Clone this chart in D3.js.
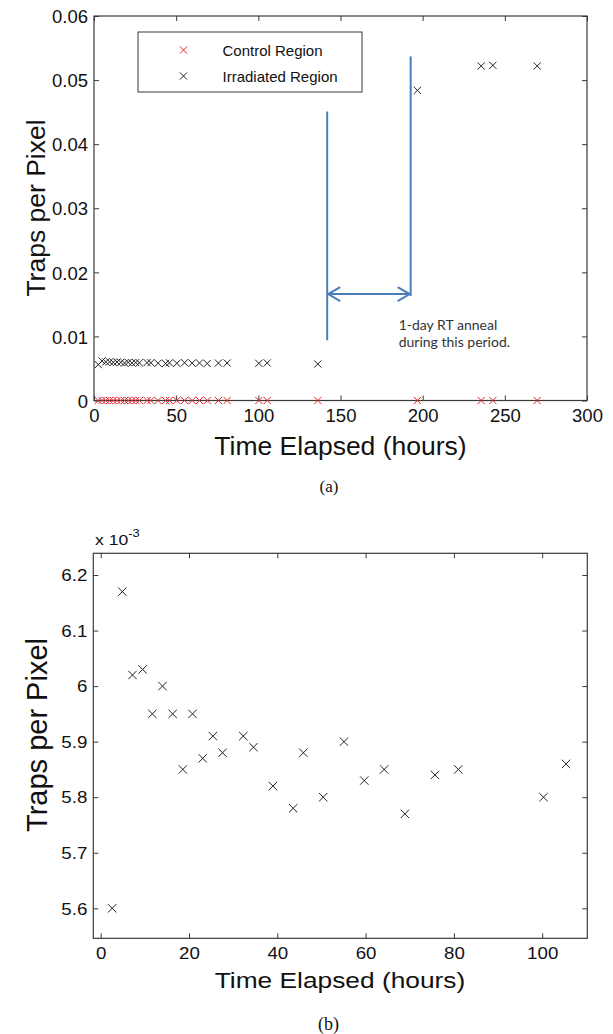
<!DOCTYPE html>
<html><head><meta charset="utf-8">
<script src="https://cdn.jsdelivr.net/npm/d3@7"></script>
<style>body{margin:0;background:#fff} svg{display:block}</style>
</head><body>
<script>
// ---------- Panel (a) data ----------
const xTicksA = [0, 50, 100, 150, 200, 250, 300];
const yTicksA = [0, 0.01, 0.02, 0.03, 0.04, 0.05, 0.06];
const controlHours = [2.6, 4.9, 7.2, 9.5, 11.7, 14.0, 16.3, 18.6, 20.8, 23.1, 25.4, 27.6, 32.3, 34.6, 39.0, 43.6, 45.9, 50.4, 55.1, 59.7, 64.2, 68.9, 75.7, 81.0, 100.3, 105.4, 136.2, 196.8, 235.6, 242.7, 269.7];
const controlTraps = [0,0,0,0,0,0,0,0,0,0,0,0,0,0,0,0,0,0,0,0,0,0,0,0,0,0,0,0,0,0,0];
const irradiatedHours = [2.6, 4.9, 7.2, 9.5, 11.7, 14.0, 16.3, 18.6, 20.8, 23.1, 25.4, 27.6, 32.3, 34.6, 39.0, 43.6, 45.9, 50.4, 55.1, 59.7, 64.2, 68.9, 75.7, 81.0, 100.3, 105.4, 136.2, 196.8, 235.6, 242.7, 269.7];
const irradiatedTraps = [0.00560, 0.00617, 0.00602, 0.00603, 0.00595, 0.00600, 0.00595, 0.00585, 0.00595, 0.00587, 0.00591, 0.00588, 0.00591, 0.00589, 0.00582, 0.00578, 0.00588, 0.00580, 0.00590, 0.00583, 0.00585, 0.00577, 0.00584, 0.00585, 0.00580, 0.00586, 0.00570, 0.0484, 0.0522, 0.0523, 0.0522];
const legendLabels = ["Control Region", "Irradiated Region"];
const annotationLines = ["1-day RT anneal", "during this period."];
// annotation geometry in data units (hours, traps/pixel)
const annealStart = {t: 141.9, top: 0.0451, bottom: 0.0094};
const annealEnd = {t: 192.7, top: 0.0537, bottom: 0.0163};
const arrowLevel = 0.0166;
const annotationAnchor = {t: 185.4, v: 0.0110, v2: 0.0084};

// ---------- Panel (b) data ----------
const xTicksB = [0, 20, 40, 60, 80, 100];
const yTicksB = [5.6, 5.7, 5.8, 5.9, 6.0, 6.1, 6.2];
const earlyHours = [2.6, 4.9, 7.2, 9.5, 11.7, 14.0, 16.3, 18.6, 20.8, 23.1, 25.4, 27.6, 32.3, 34.6, 39.0, 43.6, 45.9, 50.4, 55.1, 59.7, 64.2, 68.9, 75.7, 81.0, 100.3, 105.4];
const earlyTrapsE3 = [5.60, 6.17, 6.02, 6.03, 5.95, 6.00, 5.95, 5.85, 5.95, 5.87, 5.91, 5.88, 5.91, 5.89, 5.82, 5.78, 5.88, 5.80, 5.90, 5.83, 5.85, 5.77, 5.84, 5.85, 5.80, 5.86];

const W = 613, H = 1034;
const svg = d3.select("body").append("svg").attr("width", W).attr("height", H);
const SANS = "'Liberation Sans', Arial, sans-serif";
const SERIF = "'Liberation Serif', 'Times New Roman', serif";
const FRAME = "#3a3a3a";
const RED = "#e2262c";
const BLUE = "#4a7ebb";

function cross(g, x, y, r, color) {
  g.append("path")
    .attr("d", `M${x - r},${y - r}L${x + r},${y + r}M${x - r},${y + r}L${x + r},${y - r}`)
    .attr("stroke", color).attr("stroke-width", 1).attr("fill", "none");
}

function styleAxis(g, size, sx) {
  g.select(".domain").remove();
  g.selectAll(".tick line").attr("stroke", FRAME).attr("stroke-width", 1);
  g.selectAll(".tick text").attr("fill", "#111").style("font-family", SANS).style("font-size", size + "px");
  if (sx && sx !== 1) {
    g.selectAll(".tick text").each(function () {
      const t = d3.select(this);
      const x = +t.attr("x") || 0, y = +t.attr("y") || 0;
      t.attr("transform", `translate(${x},${y}) scale(${sx},1) translate(${-x},${-y})`);
    });
  }
}

function panel(opt) {
  const g = svg.append("g");
  const {x, y} = opt;
  const xr = [opt.frame.left, opt.frame.right], yr = [opt.frame.top, opt.frame.bottom];
  const ts = 5;
  const gb = g.append("g").attr("transform", `translate(0,${yr[1]})`)
    .call(d3.axisBottom(x).tickValues(opt.xTicks).tickSize(-ts).tickPadding(opt.xPad).tickFormat(opt.xFmt));
  styleAxis(gb, opt.tickFont, opt.sx);
  const gt = g.append("g").attr("transform", `translate(0,${yr[0]})`)
    .call(d3.axisTop(x).tickValues(opt.xTicks).tickSize(-ts).tickFormat(""));
  styleAxis(gt, opt.tickFont);
  const gl = g.append("g").attr("transform", `translate(${xr[0]},0)`)
    .call(d3.axisLeft(y).tickValues(opt.yTicks).tickSize(-ts).tickPadding(opt.yPad).tickFormat(opt.yFmt));
  styleAxis(gl, opt.tickFont, opt.sx);
  gl.selectAll(".tick text").attr("dy", "0.36em");
  const gr = g.append("g").attr("transform", `translate(${xr[1]},0)`)
    .call(d3.axisRight(y).tickValues(opt.yTicks).tickSize(-ts).tickFormat(""));
  styleAxis(gr, opt.tickFont);
  g.append("rect").attr("x", xr[0]).attr("y", yr[0]).attr("width", xr[1] - xr[0]).attr("height", yr[1] - yr[0])
    .attr("fill", "none").attr("stroke", FRAME).attr("stroke-width", 1.2);
  return g;
}

// ================= Panel (a) =================
const xA = d3.scaleLinear().domain([0, 300]).range([94, 587]);
const yA = d3.scaleLinear().domain([0, 0.06]).range([400.5, 16]);
const gA = panel({
  x: xA, y: yA, frame: {left: 94, right: 587, top: 16, bottom: 400.5},
  xTicks: xTicksA, yTicks: yTicksA, xPad: 8, yPad: 6, tickFont: 18.5,
  xFmt: d3.format("d"), yFmt: d => d === 0 ? "0" : d3.format(".2f")(d)
});
const mA = gA.append("g");
controlHours.forEach((t, i) => cross(mA, xA(t), yA(controlTraps[i]), 3.6, RED));
irradiatedHours.forEach((t, i) => cross(mA, xA(t), yA(irradiatedTraps[i]), 3.6, "#222"));

// legend
const leg = gA.append("g");
leg.append("rect").attr("x", 138).attr("y", 32).attr("width", 224).attr("height", 60)
  .attr("fill", "#fff").attr("stroke", FRAME).attr("stroke-width", 1);
[RED, "#222"].forEach((c, i) => {
  cross(leg, 183.5, 50 + i * 26, 3.6, c);
  leg.append("text").attr("x", 222.5).attr("y", 55.5 + i * 26).text(legendLabels[i])
    .style("font-family", SANS).style("font-size", "15px").attr("fill", "#111");
});

// anneal annotation
const ann = gA.append("g").attr("stroke", BLUE).attr("stroke-width", 2).attr("fill", "none");
ann.append("line").attr("x1", xA(annealStart.t)).attr("x2", xA(annealStart.t))
  .attr("y1", yA(annealStart.top)).attr("y2", yA(annealStart.bottom));
ann.append("line").attr("x1", xA(annealEnd.t)).attr("x2", xA(annealEnd.t))
  .attr("y1", yA(annealEnd.top)).attr("y2", yA(annealEnd.bottom));
const ay = yA(arrowLevel), axL = xA(annealStart.t) + 1, axR = xA(annealEnd.t) - 1;
ann.append("line").attr("x1", axL).attr("x2", axR).attr("y1", ay).attr("y2", ay);
ann.append("path").attr("d", `M${axL + 12},${ay - 7}L${axL},${ay}L${axL + 12},${ay + 7}`);
ann.append("path").attr("d", `M${axR - 12},${ay - 7}L${axR},${ay}L${axR - 12},${ay + 7}`);
annotationLines.forEach((s, i) => {
  gA.append("text").attr("x", xA(annotationAnchor.t)).attr("y", yA(i === 0 ? annotationAnchor.v : annotationAnchor.v2))
    .text(s).style("font-family", "Lato, 'Open Sans', sans-serif").style("font-size", "14px").attr("fill", "#333");
});

// axis titles
gA.append("text").attr("x", 340.5).attr("y", 455).attr("text-anchor", "middle").text("Time Elapsed (hours)")
  .style("font-family", SANS).style("font-size", "26.5px").attr("fill", "#111");
gA.append("text").attr("transform", "translate(45,208) rotate(-90)").attr("text-anchor", "middle").text("Traps per Pixel")
  .style("font-family", SANS).style("font-size", "26.5px").attr("fill", "#111");
svg.append("text").attr("x", 329).attr("y", 492).attr("text-anchor", "middle").text("(a)")
  .style("font-family", SERIF).style("font-size", "17px").attr("fill", "#111");

// ================= Panel (b) =================
const xB = d3.scaleLinear().domain([0, 100]).range([100.7, 542.2]);
const yB = d3.scaleLinear().domain([5.6, 6.2]).range([908.3, 575]);
const SX = 1.17;
const gB = panel({
  x: xB, y: yB, frame: {left: 93.3, right: 587.3, top: 553.3, bottom: 938.3},
  xTicks: xTicksB, yTicks: yTicksB, xPad: 9, yPad: 6, tickFont: 16, sx: SX,
  xFmt: d3.format("d"), yFmt: d => String(+d.toFixed(1))
});
const mB = gB.append("g");
earlyHours.forEach((t, i) => cross(mB, xB(t), yB(earlyTrapsE3[i]), 4.2, "#222"));

// exponent label
const ex = gB.append("text").attr("transform", `translate(95,545) scale(${SX},1)`)
  .style("font-family", SANS).style("font-size", "15px").attr("fill", "#111");
ex.append("tspan").text("x 10");
ex.append("tspan").attr("dy", -8).style("font-size", "11px").text("-3");

gB.append("text").attr("transform", `translate(340,988) scale(${SX},1)`).attr("text-anchor", "middle").text("Time Elapsed (hours)")
  .style("font-family", SANS).style("font-size", "22.5px").attr("fill", "#111");
gB.append("text").attr("transform", `translate(47,735) rotate(-90)`).attr("text-anchor", "middle").text("Traps per Pixel")
  .style("font-family", SANS).style("font-size", "29px").attr("fill", "#111");
svg.append("text").attr("x", 328.5).attr("y", 1030).attr("text-anchor", "middle").text("(b)")
  .style("font-family", SERIF).style("font-size", "18px").attr("fill", "#111");
</script>
</body></html>
